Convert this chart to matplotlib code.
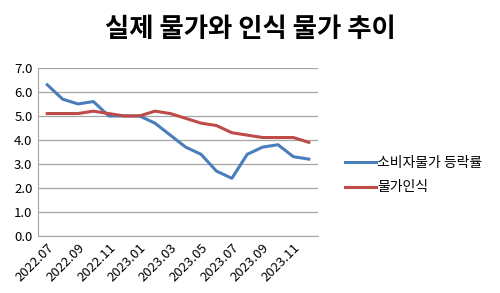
import matplotlib.pyplot as plt

plt.rcParams['font.family'] = ['Noto Sans CJK KR', 'DejaVu Sans']

months = ['2022.07', '2022.08', '2022.09', '2022.10', '2022.11', '2022.12',
          '2023.01', '2023.02', '2023.03', '2023.04', '2023.05', '2023.06',
          '2023.07', '2023.08', '2023.09', '2023.10', '2023.11', '2023.12']
cpi = [6.3, 5.7, 5.5, 5.6, 5.0, 5.0, 5.0, 4.7, 4.2, 3.7, 3.4, 2.7,
       2.4, 3.4, 3.7, 3.8, 3.3, 3.2]
perceived = [5.1, 5.1, 5.1, 5.2, 5.1, 5.0, 5.0, 5.2, 5.1, 4.9, 4.7, 4.6,
             4.3, 4.2, 4.1, 4.1, 4.1, 3.9]
yticks = [0, 1, 2, 3, 4, 5, 6, 7]

fig = plt.figure(figsize=(5, 2.93), dpi=100)
ax = fig.add_axes([0.076, 0.195, 0.56, 0.573])

x = list(range(len(months)))
ax.plot(x, cpi, color='#4A7EBB', lw=2.2, label='소비자물가 등락률')
ax.plot(x, perceived, color='#BE4B48', lw=2.2, label='물가인식')

ax.set_xlim(-0.6, len(months) - 0.4)
ax.set_ylim(0, 7)
ax.set_yticks(yticks)
ax.set_yticklabels([f'{v:.1f}' for v in yticks], fontsize=9.5)
ax.set_xticks(x[::2])
ax.set_xticklabels(months[::2], rotation=45, ha='right', rotation_mode='anchor',
                   fontsize=9.5)
ax.tick_params(length=0, pad=4)
ax.grid(axis='y', color='#A6A6A6', lw=0.9)
ax.set_axisbelow(True)
for s in ['top', 'right']:
    ax.spines[s].set_visible(False)
ax.spines['left'].set_color('#A6A6A6')
ax.spines['bottom'].set_color('#A6A6A6')

fig.legend(loc='upper left', bbox_to_anchor=(0.665, 0.51), frameon=False,
           fontsize=10, handlelength=2.2, handletextpad=0.1, labelspacing=0.75)

fig.text(0.5, 0.9, '실제 물가와 인식 물가 추이', ha='center', va='center',
         fontsize=19, fontweight='bold')

fig.savefig('out.png', dpi=100)
